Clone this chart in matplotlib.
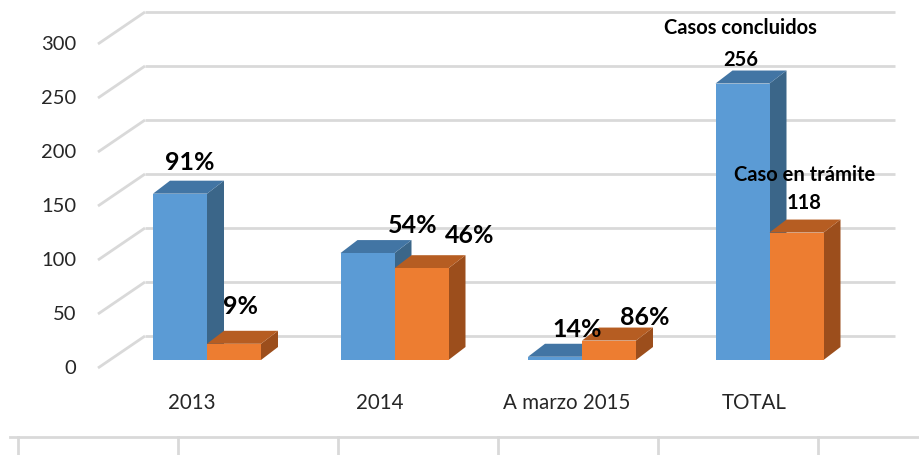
import numpy as np
import matplotlib
matplotlib.use('Agg')
import matplotlib.pyplot as plt
from matplotlib.patches import Polygon

plt.rcParams['font.family'] = ['Lato', 'DejaVu Sans']

categorias = ['2013', '2014', 'A marzo 2015', 'TOTAL']
concluidos = [154, 99, 3, 256]
en_tramite = [15, 85, 18, 118]
etq_concluidos = ['91%', '54%', '14%', '256']
etq_tramite = ['9%', '46%', '86%', '118']
yticks = [0, 50, 100, 150, 200, 250, 300]

# colores (frente, lado, tapa)
azul = ('#5b9bd5', '#3b6689', '#4275a4')
naranja = ('#ed7d31', '#9c4e1c', '#b65d22')

# escala en pixeles
PXX = 187.5   # px por categoria
PXY = 1.08    # px por unidad
ANCHO = 54 / PXX

def dx(px):
    return px / PXX

def dy(px):
    return px / PXY

fig = plt.figure(figsize=(9.2, 4.55), dpi=100)
ax = fig.add_axes([0, 0, 1, 1])
ax.set_xlim(-207 / PXX, 713 / PXX)
ax.set_ylim(-95 / PXY, 360 / PXY)
ax.axis('off')

# piso / pared: plano frontal (-12,-8) px y pared trasera (+35,+24) px respecto al frente de barras
fx, fy = dx(-12), dy(-8)
bx, by = dx(35), dy(24)
x_izq = dx(98 - 207 + 12)
x_der = dx(895 - 207 - 35)
grid_c = '#d9d9d9'
for v in yticks:
    ax.plot([x_izq + fx, x_izq + bx], [v + fy, v + by], color=grid_c, lw=2, zorder=1,
            solid_capstyle='butt')
    ax.plot([x_izq + bx, x_der + bx], [v + by, v + by], color=grid_c, lw=2, zorder=1,
            solid_capstyle='butt')
    ax.text(x_izq + fx - dx(22), v + fy, str(v), ha='right', va='center',
            fontsize=14.5, color='#262626')

# barras 3D
px_, py_ = dx(17), dy(13)

def barra(x0, h, cols):
    x1 = x0 + ANCHO
    lado = Polygon([(x1, 0), (x1 + px_, py_), (x1 + px_, h + py_), (x1, h)],
                   closed=True, fc=cols[1], ec='none', zorder=3)
    tapa = Polygon([(x0, h), (x0 + px_, h + py_), (x1 + px_, h + py_), (x1, h)],
                   closed=True, fc=cols[2], ec='none', zorder=3)
    frente = Polygon([(x0, 0), (x1, 0), (x1, h), (x0, h)],
                     closed=True, fc=cols[0], ec='none', zorder=3)
    for p in (lado, tapa, frente):
        ax.add_patch(p)

for i in range(len(categorias)):
    barra(i - ANCHO, concluidos[i], azul)
    barra(i, en_tramite[i], naranja)
    ax.text(i + fx - dx(3), dy(-43), categorias[i], ha='center', va='center',
            fontsize=14.8, color='#262626')

# desplazamientos de etiquetas (px) respecto al centro del frente de la barra
off_c = [(10, 31), (45, 28), (22, 27), (-2, 23.5)]
off_t = [(7, 37), (48, 33), (36, 23), (7.5, 29.5)]
for i in range(len(categorias)):
    fs = 18 if i < 3 else 14.5
    ax.text(i - ANCHO / 2 + dx(off_c[i][0]), concluidos[i] + dy(off_c[i][1]),
            etq_concluidos[i], ha='center', va='center', fontsize=fs,
            fontweight='bold', zorder=5)
    ax.text(i + ANCHO / 2 + dx(off_t[i][0]), en_tramite[i] + dy(off_t[i][1]),
            etq_tramite[i], ha='center', va='center', fontsize=fs,
            fontweight='bold', zorder=5)
# nombres de serie sobre TOTAL
ax.text(3 - ANCHO / 2 + dx(-2), concluidos[3] + dy(55.5), 'Casos concluidos',
        ha='center', va='center', fontsize=14.5, fontweight='bold', zorder=5)
ax.text(3 + ANCHO / 2 + dx(8), en_tramite[3] + dy(57.5), 'Caso en trámite',
        ha='center', va='center', fontsize=14.5, fontweight='bold', zorder=5)

# linea inferior con divisiones
ax.plot([10 / 920, 1], [18 / 455, 18 / 455], transform=ax.transAxes,
        color=grid_c, lw=2)
for k in range(6):
    xx = (18 + 160 * k) / 920
    ax.plot([xx, xx], [0, 18 / 455], transform=ax.transAxes, color=grid_c, lw=2)

fig.savefig('out.png', dpi=100)
